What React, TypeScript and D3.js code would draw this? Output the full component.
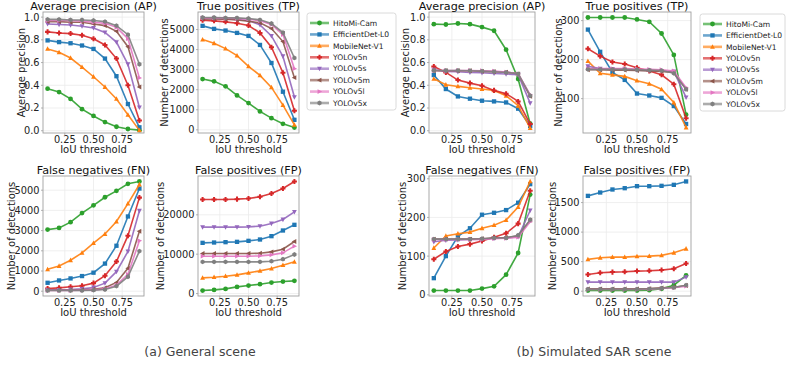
import React from 'react';
import * as d3 from 'd3';

// models, colours and markers (matplotlib tab10 order)
const models = ['HitoMi-Cam', 'EfficientDet-L0', 'MobileNet-V1', 'YOLOv5n', 'YOLOv5s', 'YOLOv5m', 'YOLOv5l', 'YOLOv5x'];
const colors = ['#2ca02c', '#1f77b4', '#ff7f0e', '#d62728', '#9467bd', '#8c564b', '#e377c2', '#7f7f7f'];
const markers = ['o', 's', '^', 'P', 'v', '<', '>', 'h'];

const iou = [0.1, 0.2, 0.3, 0.4, 0.5, 0.6, 0.7, 0.8, 0.9];
const xTicks = [0.25, 0.5, 0.75];

// (a) general scene
const genAP = [
  [0.37, 0.34, 0.28, 0.19, 0.13, 0.076, 0.035, 0.015, 0.005],
  [0.795, 0.78, 0.77, 0.75, 0.72, 0.635, 0.48, 0.235, 0.03],
  [0.72, 0.69, 0.64, 0.56, 0.475, 0.385, 0.28, 0.14, 0.003],
  [0.87, 0.86, 0.855, 0.84, 0.81, 0.755, 0.635, 0.4, 0.09],
  [0.94, 0.935, 0.93, 0.92, 0.905, 0.865, 0.78, 0.585, 0.205],
  [0.96, 0.96, 0.955, 0.955, 0.94, 0.925, 0.875, 0.74, 0.385],
  [0.97, 0.97, 0.97, 0.965, 0.955, 0.945, 0.91, 0.81, 0.465],
  [0.98, 0.98, 0.975, 0.975, 0.97, 0.96, 0.925, 0.845, 0.585],
];
const genTP = [
  [2533, 2417, 2167, 1717, 1333, 917, 583, 300, 117],
  [5183, 5033, 4950, 4833, 4683, 4233, 3333, 1900, 500],
  [4500, 4317, 4050, 3700, 3167, 2717, 2117, 1233, 250],
  [5467, 5433, 5383, 5317, 5200, 4833, 4117, 2850, 950],
  [5550, 5550, 5533, 5500, 5450, 5233, 4683, 3667, 1633],
  [5533, 5533, 5517, 5483, 5417, 5333, 5050, 4400, 2600],
  [5583, 5583, 5567, 5550, 5517, 5433, 5250, 4750, 3050],
  [5600, 5600, 5583, 5583, 5550, 5483, 5300, 4850, 3583],
];
const genFN = [
  [3050, 3133, 3417, 3867, 4250, 4650, 4967, 5317, 5433],
  [417, 533, 633, 750, 917, 1367, 2250, 3700, 5083],
  [1083, 1250, 1533, 1900, 2383, 2833, 3450, 4333, 5283],
  [133, 167, 217, 267, 400, 767, 1467, 2750, 4633],
  [67, 67, 83, 117, 183, 400, 967, 1967, 3983],
  [50, 50, 50, 67, 100, 167, 433, 1133, 2967],
  [33, 33, 33, 50, 67, 117, 300, 833, 2500],
  [33, 33, 33, 33, 50, 83, 250, 717, 1983],
];
const genFP = [
  [763, 932, 1186, 1695, 2034, 2373, 2797, 3051, 3220],
  [12881, 12966, 13051, 13136, 13390, 13729, 14576, 16017, 17458],
  [3983, 4153, 4407, 4746, 5254, 5763, 6356, 7203, 8051],
  [23898, 23898, 23898, 23983, 24153, 24576, 25424, 26695, 28475],
  [16864, 16864, 16864, 16864, 16949, 17119, 17797, 18814, 20763],
  [10169, 10169, 10169, 10169, 10169, 10254, 10593, 11271, 13220],
  [9492, 9492, 9492, 9492, 9492, 9576, 9831, 10339, 12034],
  [8051, 8051, 8051, 8051, 8051, 8051, 8220, 8729, 9915],
];

// (b) simulated SAR scene
const sarAP = [
  [0.938, 0.935, 0.944, 0.938, 0.912, 0.88, 0.713, 0.455, 0.062],
  [0.49, 0.367, 0.302, 0.282, 0.264, 0.258, 0.249, 0.194, 0.041],
  [0.457, 0.405, 0.39, 0.378, 0.367, 0.355, 0.308, 0.22, 0.023],
  [0.566, 0.513, 0.446, 0.419, 0.396, 0.355, 0.326, 0.258, 0.059],
  [0.537, 0.522, 0.519, 0.513, 0.51, 0.504, 0.499, 0.493, 0.243],
  [0.528, 0.528, 0.528, 0.528, 0.522, 0.519, 0.516, 0.501, 0.302],
  [0.53, 0.53, 0.53, 0.53, 0.528, 0.525, 0.516, 0.501, 0.317],
  [0.53, 0.53, 0.53, 0.528, 0.525, 0.519, 0.513, 0.501, 0.308],
];
const sarTP = [
  [308, 308, 308, 308, 303, 297, 267, 212, 59],
  [277, 220, 167, 148, 113, 108, 102, 81, 35],
  [196, 165, 161, 157, 146, 138, 124, 90, 26],
  [228, 209, 194, 189, 179, 171, 161, 137, 50],
  [183, 177, 176, 175, 173, 172, 171, 170, 103],
  [174, 174, 173, 173, 172, 171, 170, 167, 124],
  [177, 177, 177, 177, 176, 175, 174, 171, 128],
  [175, 175, 175, 175, 174, 173, 172, 165, 124],
];
const sarFN = [
  [11, 11, 11, 11, 16, 22, 52, 108, 259],
  [43, 100, 151, 172, 207, 212, 219, 238, 286],
  [121, 152, 158, 162, 172, 180, 193, 227, 293],
  [92, 112, 125, 131, 139, 149, 159, 184, 269],
  [137, 141, 142, 143, 144, 146, 147, 150, 218],
  [144, 144, 144, 144, 145, 147, 148, 152, 193],
  [143, 143, 143, 143, 143, 145, 146, 149, 189],
  [144, 144, 144, 144, 145, 147, 147, 154, 194],
];
const sarFP = [
  [11, 11, 11, 11, 11, 17, 40, 102, 266],
  [1613, 1670, 1721, 1743, 1777, 1777, 1783, 1800, 1857],
  [538, 566, 577, 577, 589, 594, 606, 651, 719],
  [283, 311, 323, 328, 340, 345, 357, 379, 470],
  [153, 153, 153, 153, 153, 153, 153, 153, 238],
  [40, 40, 40, 40, 40, 45, 57, 68, 96],
  [28, 28, 28, 28, 28, 34, 45, 57, 85],
  [34, 34, 34, 34, 34, 40, 51, 62, 102],
];

const FONT = 'DejaVu Sans';

const markerPath = (type: string, r: number) => {
  const poly = (pts: number[][]) => 'M' + pts.map(p => `${p[0].toFixed(2)},${p[1].toFixed(2)}`).join('L') + 'Z';
  switch (type) {
    case 'o':
      return d3.symbol(d3.symbolCircle, Math.PI * r * r)()!;
    case 's':
      return poly([[-r * 0.9, -r * 0.9], [r * 0.9, -r * 0.9], [r * 0.9, r * 0.9], [-r * 0.9, r * 0.9]]);
    case '^':
      return poly([[0, -r * 1.1], [r, r * 0.8], [-r, r * 0.8]]);
    case 'v':
      return poly([[0, r * 1.1], [r, -r * 0.8], [-r, -r * 0.8]]);
    case '<':
      return poly([[-r * 1.1, 0], [r * 0.8, -r], [r * 0.8, r]]);
    case '>':
      return poly([[r * 1.1, 0], [-r * 0.8, -r], [-r * 0.8, r]]);
    case 'P': {
      const a = r * 0.42, b = r * 1.05;
      return poly([[-a, -b], [a, -b], [a, -a], [b, -a], [b, a], [a, a], [a, b], [-a, b], [-a, a], [-b, a], [-b, -a], [-a, -a]]);
    }
    default: {
      const pts = d3.range(6).map(i => {
        const t = Math.PI / 6 + (i * Math.PI) / 3;
        return [r * Math.cos(t), r * Math.sin(t)];
      });
      return poly(pts);
    }
  }
};

type PanelProps = {
  x: number; y: number; w: number; h: number;
  title: string; ylabel: string; ylabelX: number;
  data: number[][]; yTicks: number[]; fmt: (v: number) => string;
  yDomain?: [number, number];
};

const Panel = ({ x, y, w, h, title, ylabel, ylabelX, data, yTicks, fmt, yDomain }: PanelProps) => {
  const xScale = d3.scaleLinear().domain([0.06, 0.94]).range([x, x + w]);
  let dom = yDomain;
  if (!dom) {
    const lo = d3.min(data.flat())!;
    const hi = d3.max(data.flat())!;
    const m = (hi - lo) * 0.05;
    dom = [lo - m, hi + m];
  }
  const yScale = d3.scaleLinear().domain(dom).range([y + h, y]);
  const line = d3.line<number>().x((_, i) => xScale(iou[i])).y(v => yScale(v));
  return (
    <g>
      {xTicks.map(t => (
        <line key={'gx' + t} x1={xScale(t)} x2={xScale(t)} y1={y} y2={y + h} stroke="#ebebeb" strokeWidth={0.8} />
      ))}
      {yTicks.map(t => (
        <line key={'gy' + t} x1={x} x2={x + w} y1={yScale(t)} y2={yScale(t)} stroke="#ebebeb" strokeWidth={0.8} />
      ))}
      {data.map((s, k) => (
        <g key={models[k]}>
          <path d={line(s)!} fill="none" stroke={colors[k]} strokeWidth={1.6} strokeOpacity={0.9} />
          {s.map((v, i) => (
            <path key={i} d={markerPath(markers[k], 2.4)} transform={`translate(${xScale(iou[i])},${yScale(v)})`} fill={colors[k]} />
          ))}
        </g>
      ))}
      <rect x={x} y={y} width={w} height={h} fill="none" stroke="#a0a0a0" strokeWidth={0.9} />
      {xTicks.map(t => (
        <g key={'tx' + t}>
          <line x1={xScale(t)} x2={xScale(t)} y1={y + h} y2={y + h + 2} stroke="#a0a0a0" strokeWidth={0.8} />
          <text x={xScale(t)} y={y + h + 10} textAnchor="middle" fontSize={9.8} fontFamily={FONT} fill="#222">{d3.format('.2f')(t)}</text>
        </g>
      ))}
      {yTicks.map(t => (
        <g key={'ty' + t}>
          <line x1={x - 2} x2={x} y1={yScale(t)} y2={yScale(t)} stroke="#a0a0a0" strokeWidth={0.8} />
          <text x={x - 3.5} y={yScale(t) + 3.4} textAnchor="end" fontSize={9.8} fontFamily={FONT} fill="#222">{fmt(t)}</text>
        </g>
      ))}
      <text x={x + w / 2} y={y - 2.5} textAnchor="middle" fontSize={11.2} fontFamily={FONT} fill="#111">{title}</text>
      <text x={x + w / 2} y={y + h + 20} textAnchor="middle" fontSize={10} fontFamily={FONT} fill="#222">IoU threshold</text>
      <text transform={`translate(${ylabelX},${y + h / 2}) rotate(-90)`} textAnchor="middle" dy="0.35em" fontSize={10} fontFamily={FONT} fill="#222">{ylabel}</text>
    </g>
  );
};

const Legend = ({ x, y, w, h }: { x: number; y: number; w: number; h: number }) => (
  <g>
    <rect x={x} y={y} width={w} height={h} rx={2.5} fill="#fff" stroke="#d0d0d0" strokeWidth={0.8} />
    {models.map((m, k) => {
      const cy = y + 10 + k * 11.43;
      return (
        <g key={m}>
          <line x1={x + 3} x2={x + 22} y1={cy} y2={cy} stroke={colors[k]} strokeWidth={2.6} strokeOpacity={0.65} />
          <path d={markerPath(markers[k], 2.4)} transform={`translate(${x + 12.5},${cy})`} fill={colors[k]} />
          <text x={x + 26} y={cy + 2.7} fontSize={7.6} fontFamily={FONT} fill="#222">{m}</text>
        </g>
      );
    })}
  </g>
);

const f1 = d3.format('.1f');
const fd = d3.format('d');
const apTicks = [0, 0.2, 0.4, 0.6, 0.8, 1.0];
const apDomain: [number, number] = [-0.02, 1.045];

export default function App() {
  const r1 = { y: 12, h: 121 };
  const r2 = { y: 176, h: 120 };
  return (
    <svg width={793} height={366} style={{ position: 'absolute', left: 0, top: 0, background: '#fff' }}>
      <Panel x={43} w={101} {...r1} title="Average precision (AP)" ylabel="Average precision" ylabelX={21}
        data={genAP} yTicks={apTicks} fmt={f1} yDomain={apDomain} />
      <Panel x={198} w={101} {...r1} title="True positives (TP)" ylabel="Number of detections" ylabelX={164}
        data={genTP} yTicks={[0, 1000, 2000, 3000, 4000, 5000]} fmt={fd} />
      <Panel x={43} w={101} {...r2} title="False negatives (FN)" ylabel="Number of detections" ylabelX={11}
        data={genFN} yTicks={[0, 1000, 2000, 3000, 4000, 5000]} fmt={fd} />
      <Panel x={198} w={101} {...r2} title="False positives (FP)" ylabel="Number of detections" ylabelX={160}
        data={genFP} yTicks={[0, 10000, 20000]} fmt={fd} />
      <Legend x={307} y={13} w={89} h={97} />

      <Panel x={429} w={106} {...r1} title="Average precision (AP)" ylabel="Average precision" ylabelX={405}
        data={sarAP} yTicks={apTicks} fmt={f1} yDomain={apDomain} />
      <Panel x={583} w={108} {...r1} title="True positives (TP)" ylabel="Number of detections" ylabelX={558}
        data={sarTP} yTicks={[100, 200, 300]} fmt={fd} />
      <Panel x={429} w={106} {...r2} title="False negatives (FN)" ylabel="Number of detections" ylabelX={402}
        data={sarFN} yTicks={[0, 100, 200, 300]} fmt={fd} />
      <Panel x={583} w={108} {...r2} title="False positives (FP)" ylabel="Number of detections" ylabelX={552}
        data={sarFP} yTicks={[0, 500, 1000, 1500]} fmt={fd} />
      <Legend x={700} y={14} w={85} h={97} />

      <text x={200} y={356} textAnchor="middle" fontSize={12.5} fontFamily={FONT} fill="#444">(a) General scene</text>
      <text x={594} y={356} textAnchor="middle" fontSize={12.5} fontFamily={FONT} fill="#444">(b) Simulated SAR scene</text>
    </svg>
  );
}
